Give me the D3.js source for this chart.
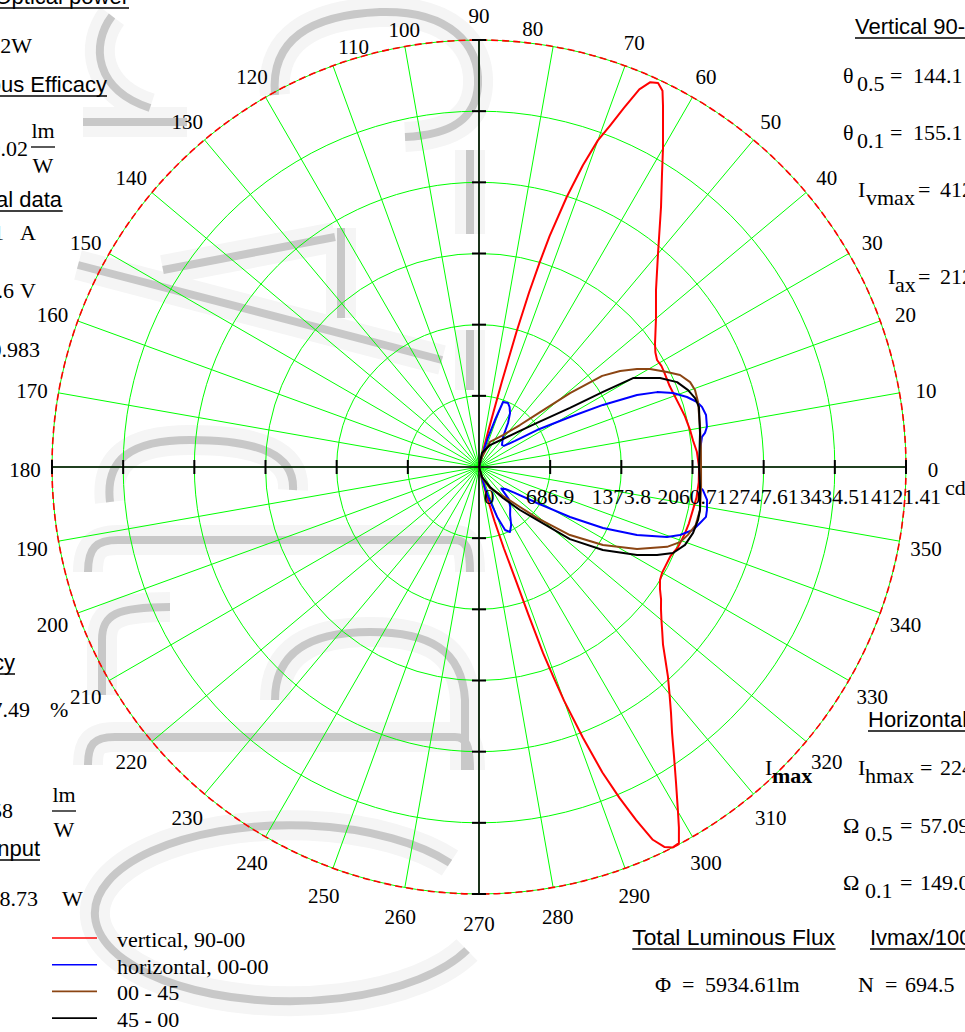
<!DOCTYPE html>
<html><head><meta charset="utf-8">
<script src="https://cdn.jsdelivr.net/npm/d3@7"></script>
<style>body{margin:0;background:#fff;overflow:hidden}svg{display:block}</style>
</head><body><svg id="c" width="965" height="1032"></svg>
<script>
// ---------------- data ----------------
const radialTicks = [0, 686.9, 1373.8, 2060.71, 2747.61, 3434.51, 4121.41];
const radialTickLabels = ["0", "686.9", "1373.8", "2060.71", "2747.61", "3434.51", "4121.41"];
const angleTicks = [0,10,20,30,40,50,60,70,80,90,100,110,120,130,140,150,160,170,180,190,200,210,220,230,240,250,260,270,280,290,300,310,320,330,340,350];
const seriesNames = ["vertical, 90-00", "horizontal, 00-00", "00 - 45", "45 - 00"];
const seriesColors = ["#ff0000", "#0000ff", "#8b4513", "#000000"];
// [angle in degrees (counter-clockwise from 0 = right), intensity in cd]
const vertical9000 = [[-90,0],[-78,0],[-76,80],[-75,300],[-74,550],[-73,820],[-72,1150],[-71.5,1500],[-71,1900],[-70.5,2150],[-70,2400],[-69,2800],[-68,3180],[-67,3470],[-66,3730],[-65,3970],[-64,4080],[-63,4121],[-62,4110],[-61,3980],[-60,3841],[-58,3588],[-56,3366],[-54,3170],[-52,3010],[-50,2861],[-48,2726],[-46,2590],[-44,2469],[-42,2380],[-40,2299],[-38,2229],[-36,2172],[-34,2107],[-32,2060],[-30,2041],[-28,2038],[-25,2038],[-22,2070],[-18,2088],[-15,2098],[-11,2107],[-8,2120],[-4,2126],[0,2124],[4,2108],[7,2082],[10,2068],[14,2046],[17,2025],[20,2009],[23,1999],[27,2008],[29,2013],[31,2005],[33,2030],[35,2074],[40,2230],[45,2416],[50,2688],[55,3063],[58,3333],[60,3552],[62,3783],[63,3912],[64,4040],[65,4090],[66,4066],[67,3960],[68,3740],[69,3530],[70,3355],[71,3080],[72,2740],[73,2330],[73.5,2050],[74,1750],[74.5,1350],[75,850],[75.5,400],[76,120],[77,0],[90,0]];
const horizontal0000 = [[-90,0],[-78,0],[-76,60],[-74,211],[-72,336],[-70,513],[-67.5,658],[-64.5,695],[-61,640],[-57,551],[-52,490],[-47,420],[-44,300],[-40,330],[-36,420],[-31.8,659],[-28.8,1002],[-26.2,1334],[-23.3,1660],[-20.4,1936],[-18.7,2048],[-16.4,2153],[-14.2,2201],[-12.4,2243],[-10.7,2239],[-8.2,2224],[-5.9,2173],[-5.2,2142],[0,2133],[4.4,2140],[7.7,2172],[8.6,2206],[10,2234],[12.9,2248],[15.1,2229],[16.6,2196],[18.6,2118],[20.9,2004],[22.8,1865],[24.5,1676],[26.6,1338],[28.8,1002],[32.5,664],[36,430],[40,320],[43.7,307],[47,330],[51.3,371],[56.6,509],[60.1,601],[63,650],[65.6,678],[69.7,669],[71.2,479],[73,300],[74.5,120],[76,0],[90,0]];
const plane0045 = [[-90,0],[-82,20],[-72,120],[-62.4,229],[-50.4,363],[-44.3,553],[-41.3,745],[-36.8,1096],[-32.2,1414],[-27.4,1718],[-23,1972],[-20.5,2071],[-18,2120],[-15,2165],[-11,2173],[-5.1,2152],[0,2143],[5,2150],[10.3,2168],[16.5,2205],[19.6,2213],[21.9,2196],[24.6,2134],[26.8,2033],[29.8,1902],[31.8,1794],[34.2,1647],[36.5,1479],[39.1,1132],[42.4,758],[45.7,566],[53.1,386],[66.3,264],[73,100],[82,20],[90,0]];
const plane4500 = [[-90,0],[-85,0],[-73,101],[-61.2,220],[-52.3,378],[-46.4,573],[-42.4,758],[-38.4,1120],[-33.8,1439],[-29.1,1746],[-26.3,1917],[-23.9,2048],[-20.7,2126],[-17.1,2162],[-13.6,2175],[-11,2173],[-5.2,2142],[0,2124],[8.7,2158],[15.3,2201],[17.7,2189],[20.2,2150],[23.2,2080],[26.2,1947],[30,1717],[31.2,1399],[33,1047],[37.2,703],[41.3,527],[49.4,356],[63.4,237],[78,138],[85,0],[90,0]];
const seriesData = [vertical9000, horizontal0000, plane0045, plane4500];

// ---------------- layout ----------------
const svg = d3.select("#c");
const cx = 479, cy = 467, R = 427;
const r = d3.scaleLinear().domain([0, 4121.41]).range([0, R]);
const serif = "'Liberation Serif','Times New Roman',serif";
const sans = "'Liberation Sans',Arial,sans-serif";
const rad = d => d * Math.PI / 180;

// ---------------- watermark ----------------
const wm = svg.append("g").attr("fill", "none");
const wmPaths = [
  "M 112 16 C 90 45, 95 90, 150 108", "M 83 122 L 187 122",
  "M 275 95 C 270 40, 310 15, 380 12 C 450 10, 480 45, 478 85 C 476 120, 450 135, 405 137",
  "M 78 265 L 442 360", "M 163 270 L 335 237", "M 341 228 L 341 318",
  "M 470 150 L 470 234", "M 470 330 L 470 390",
  "M 110 502 C 105 460, 130 440, 190 440 C 260 440, 295 455, 293 490",
  "M 88 572 C 88 548, 96 540, 118 540 L 455 540 C 466 540, 470 548, 470 572",
  "M 102 695 L 102 640 C 102 615, 115 607, 170 607",
  "M 88 765 C 88 745, 93 737, 115 737 L 455 737 C 466 737, 470 745, 470 770",
  "M 275 700 C 275 652, 310 632, 370 632 C 430 632, 462 650, 465 700 L 465 770",
  "M 450 863 A 195 88 0 1 0 467 950"
];
wm.selectAll("path.h").data(wmPaths).join("path").attr("class","h").attr("d", d => d)
  .attr("stroke", "#f5f5f5").attr("stroke-width", 30);
wm.selectAll("path.k").data(wmPaths).join("path").attr("class","k").attr("d", d => d)
  .attr("stroke", "#c8c8c8").attr("stroke-width", 8);

// ---------------- grid ----------------
const g = svg.append("g").attr("transform", `translate(${cx},${cy})`);
g.selectAll("circle.ring").data(radialTicks.slice(1)).join("circle").attr("class","ring")
  .attr("r", d => r(d)).attr("fill", "none").attr("stroke", "#00ff00").attr("stroke-width", 1);
g.selectAll("line.spoke").data(angleTicks).join("line").attr("class","spoke")
  .attr("x1", 0).attr("y1", 0)
  .attr("x2", d => R * Math.cos(rad(d))).attr("y2", d => -R * Math.sin(rad(d)))
  .attr("stroke", "#00ff00").attr("stroke-width", 1);
g.append("circle").attr("r", R).attr("fill", "none").attr("stroke", "#ff0000")
  .attr("stroke-width", 1.6).attr("stroke-dasharray", "7,4");

// axes
g.append("line").attr("x1", -R).attr("x2", R).attr("y1", 0).attr("y2", 0).attr("stroke", "#000").attr("stroke-width", 1.6);
g.append("line").attr("y1", -R).attr("y2", R).attr("x1", 0).attr("x2", 0).attr("stroke", "#000").attr("stroke-width", 1.6);
const tk = radialTicks.slice(1);
[1, -1].forEach(s => {
  g.selectAll(null).data(tk).join("line").attr("x1", d => s * r(d)).attr("x2", d => s * r(d))
    .attr("y1", -7).attr("y2", 7).attr("stroke", "#000").attr("stroke-width", 2);
  g.selectAll(null).data(tk).join("line").attr("y1", d => s * r(d)).attr("y2", d => s * r(d))
    .attr("x1", -7).attr("x2", 7).attr("stroke", "#000").attr("stroke-width", 2);
});

// curves
const line = d3.lineRadial().angle(d => rad(90 - d[0])).radius(d => r(d[1])).curve(d3.curveLinearClosed);
seriesData.forEach((s, i) => {
  g.append("path").attr("d", line(s)).attr("fill", "none")
    .attr("stroke", seriesColors[i]).attr("stroke-width", 2).attr("stroke-linejoin", "round");
});

// angle labels (a few are nudged as in the original)
const nudge = {80: [-25, 6], 100: [4, 7], 110: [30, 4]};
g.selectAll("text.ang").data(angleTicks).join("text").attr("class","ang")
  .attr("x", d => 454 * Math.cos(rad(d)) + (nudge[d] ? nudge[d][0] : 0))
  .attr("y", d => -454 * Math.sin(rad(d)) + 5 + (nudge[d] ? nudge[d][1] : 0))
  .attr("text-anchor", "middle").attr("dominant-baseline", "middle")
  .attr("font-family", serif).attr("font-size", 21).text(d => d);
// radial labels
g.selectAll("text.rl").data(radialTicks).join("text").attr("class","rl")
  .attr("x", (d, i) => r(d) + (i === 0 ? 10 : 0)).attr("y", 37)
  .attr("text-anchor", "middle").attr("font-family", serif).attr("font-size", 21.5)
  .text((d, i) => radialTickLabels[i]);
svg.append("text").attr("x", 945).attr("y", 495).attr("font-family", serif).attr("font-size", 22).text("cd");

// ---------------- texts ----------------
function t(x, y, s, o = {}) {
  const e = svg.append("text").attr("x", x).attr("y", y)
    .attr("font-family", o.sans ? sans : serif).attr("font-size", o.size || 22)
    .attr("text-anchor", o.anchor || "start").text(s);
  if (o.bold) e.attr("font-weight", "bold");
  if (o.underline) {
    const b = e.node().getBBox();
    svg.append("line").attr("x1", b.x).attr("x2", b.x + b.width).attr("y1", y + 4).attr("y2", y + 4)
      .attr("stroke", "#000").attr("stroke-width", 1.6);
  }
  return e;
}
function frac(x, yTop, num, den) {
  t(x, yTop, num, {anchor: "middle"});
  svg.append("line").attr("x1", x - 12).attr("x2", x + 12).attr("y1", yTop + 9).attr("y2", yTop + 9).attr("stroke", "#000").attr("stroke-width", 1.3);
  t(x, yTop + 35, den, {anchor: "middle"});
}
// left panel
t(129, 4, "Optical power", {sans: true, anchor: "end", underline: true});
t(32, 53, "12.12W", {anchor: "end"});
t(107, 92, "Luminous Efficacy", {sans: true, anchor: "end", underline: true});
t(28, 156, "489.02", {anchor: "end"}); frac(43, 138, "lm", "W");
t(62, 207, "Electrical data", {sans: true, anchor: "end", underline: true});
t(4, 240, "0.51", {anchor: "end"}); t(20, 240, "A");
t(14, 298, "134.6", {anchor: "end"}); t(20, 298, "V");
t(40, 357, "0.983", {anchor: "end"});
t(15, 670, "Efficiency", {sans: true, anchor: "end", underline: true});
t(30, 717, "47.49", {anchor: "end"}); t(50, 717, "%");
t(13, 818, "86.58", {anchor: "end"}); frac(64, 802, "lm", "W");
t(40, 856, "Power Input", {sans: true, anchor: "end", underline: true});
t(38, 906, "68.73", {anchor: "end"}); t(62, 906, "W");

// right panel
t(855, 34, "Vertical 90-00", {sans: true, underline: true});
function sym(x, y, main, sub, val, eqX, valX, subDx, bold) {
  t(x, y, main);
  const s = t(x + (subDx || 14), y + 8, sub); if (bold) s.attr("font-weight", "bold");
  if (eqX) t(eqX, y, "="); if (val) t(valX, y, val);
}
sym(843, 83, "\u03B8", "0.5", "144.1", 890, 913);
sym(843, 140, "\u03B8", "0.1", "155.1", 890, 913);
sym(858, 197, "I", "vmax", "4121.41", 918, 940, 8);
sym(888, 284, "I", "ax", "2124", 918, 940, 7);
t(868, 727, "Horizontal 00-00", {sans: true, underline: true});
sym(765, 775, "I", "max", null, null, null, 7, true);
sym(858, 775, "I", "hmax", "2248", 920, 940, 7);
sym(843, 833, "\u03A9", "0.5", "57.09", 900, 920, 22);
sym(843, 890, "\u03A9", "0.1", "149.0", 900, 920, 22);
t(835, 945, "Total Luminous Flux", {sans: true, anchor: "end", underline: true, size: 22.8});
t(870, 945, "Ivmax/1000", {sans: true, underline: true});
t(655, 992, "\u03A6"); t(682, 992, "="); t(705, 992, "5934.61lm");
t(858, 992, "N"); t(885, 992, "="); t(905, 992, "694.5");

// legend
const lg = svg.append("g");
seriesNames.forEach((n, i) => {
  const y = 938 + i * 26.7;
  lg.append("line").attr("x1", 52).attr("x2", 97).attr("y1", y).attr("y2", y)
    .attr("stroke", seriesColors[i]).attr("stroke-width", 1.6);
  lg.append("text").attr("x", 117).attr("y", y + 9).attr("font-family", serif).attr("font-size", 22).text(n);
});
</script></body></html>
